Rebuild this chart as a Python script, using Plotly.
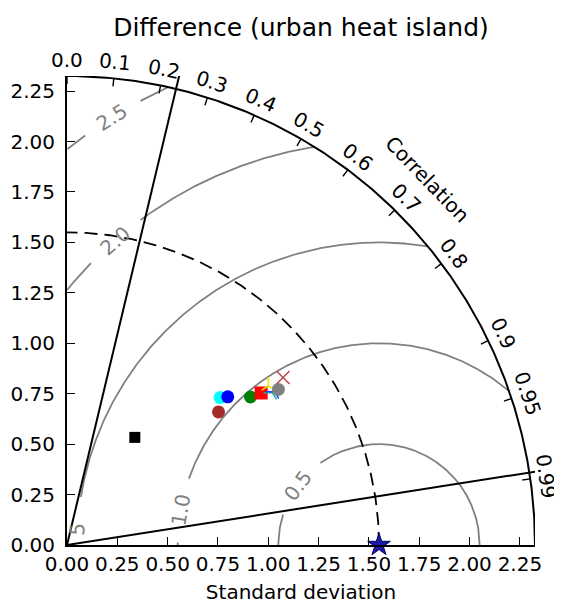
import numpy as np
import plotly.graph_objects as go

# ---------------- data ----------------
model_std = [1.055, 1.085, 1.001, 1.170, 1.224, 1.274, 1.269, 1.280, 1.303, 1.357, 0.631]
model_corr = [0.721, 0.736, 0.752, 0.779, 0.788, 0.785, 0.804, 0.805, 0.806, 0.791, 0.534]
ref_std = 1.55
rms_levels = [0.5, 1.0, 1.5, 2.0, 2.5]
rms_label_text = ["0.5", "1.0", "5", "2.0", "2.5"]
corr_ticks = [0.0, 0.1, 0.2, 0.3, 0.4, 0.5, 0.6, 0.7, 0.8, 0.9, 0.95, 0.99]
corr_tick_labels = ["0.0", "0.1", "0.2", "0.3", "0.4", "0.5", "0.6", "0.7", "0.8", "0.9", "0.95", "0.99"]
std_ticks = [0.0, 0.25, 0.5, 0.75, 1.0, 1.25, 1.5, 1.75, 2.0, 2.25]
std_tick_labels = ["0.00", "0.25", "0.50", "0.75", "1.00", "1.25", "1.50", "1.75", "2.00", "2.25"]
range_line_corr = [0.233, 0.988]
range_line_len = [2.41, 2.37]

# ---------------- styles ----------------
model_colors = ["#00ffff", "#0000ff", "#a52a2a", "#008000", "#ff0000", "#e8e800",
                "#20b0a0", "#2040ff", "#808080", "#b84848", "#000000"]
model_symbols = ["circle", "circle", "circle", "circle", "square", "y-up",
                 "y-left", "y-left", "circle", "x-thin", "square"]
model_sizes = [13, 13, 13, 13, 13, 11, 11, 11, 13, 13, 11]
rms_label_angle = [144, 170, 177, 131, 122]  # position along each contour (deg)
FONT = "DejaVu Sans"
R = 1.5 * ref_std
GRAY = "#808080"
BODY = 8  # default page margin of the html body

fig = go.Figure()

# RMS contours centred on the reference point
gap = 0.16
for L, ang in zip(rms_levels, rms_label_angle):
    phi = np.linspace(0, np.pi, 1500)
    xs = ref_std + L * np.cos(phi)
    ys = L * np.sin(phi)
    ok = (xs ** 2 + ys ** 2 <= R ** 2) & (xs >= 0)
    ok &= np.abs(phi - np.radians(ang)) * L > gap
    xs = np.where(ok, xs, np.nan)
    ys = np.where(ok, ys, np.nan)
    fig.add_trace(go.Scatter(x=xs, y=ys, mode="lines", line=dict(color=GRAY, width=1.8),
                             hoverinfo="skip", showlegend=False))

# dashed reference std arc
t = np.linspace(0, np.pi / 2, 300)
fig.add_trace(go.Scatter(x=ref_std * np.cos(t), y=ref_std * np.sin(t), mode="lines",
                         line=dict(color="black", width=1.8, dash="13px,7px"),
                         hoverinfo="skip", showlegend=False))

# outer arc
fig.add_trace(go.Scatter(x=R * np.cos(t), y=R * np.sin(t), mode="lines",
                         line=dict(color="black", width=2), cliponaxis=False,
                         hoverinfo="skip", showlegend=False))

# correlation tick marks
tx, ty = [], []
for c in corr_ticks:
    th = np.arccos(c)
    tx += [R * np.cos(th), (R - 0.04) * np.cos(th), None]
    ty += [R * np.sin(th), (R - 0.04) * np.sin(th), None]
fig.add_trace(go.Scatter(x=tx, y=ty, mode="lines", line=dict(color="black", width=1.4),
                         cliponaxis=False, hoverinfo="skip", showlegend=False))

# radial range lines
for c, ln in zip(range_line_corr, range_line_len):
    th = np.arccos(c)
    fig.add_trace(go.Scatter(x=[0, ln * np.cos(th)], y=[0, ln * np.sin(th)], mode="lines",
                             line=dict(color="black", width=2), cliponaxis=False,
                             hoverinfo="skip", showlegend=False))

# models
for s, c, col, sym, sz in zip(model_std, model_corr, model_colors, model_symbols, model_sizes):
    th = np.arccos(c)
    line_only = sym.startswith("y-") or sym.endswith("-thin")
    fig.add_trace(go.Scatter(
        x=[s * np.cos(th)], y=[s * np.sin(th)], mode="markers",
        marker=dict(symbol=sym, size=sz, color=col,
                    line=dict(color=col, width=1.5 if line_only else 0)),
        showlegend=False, cliponaxis=False))

# reference
fig.add_trace(go.Scatter(x=[ref_std], y=[0], mode="markers",
                         marker=dict(symbol="star", size=17, color="#1a1aa8",
                                     line=dict(color="#00005a", width=1)),
                         showlegend=False, cliponaxis=False))


def paper_ann(x, y, text, angle, color, size=20):
    # data -> paper coordinates (domain [0,1] spans range [0,R])
    return dict(x=x / R, y=y / R, xref="paper", yref="paper", text=text, showarrow=False,
                textangle=angle, xanchor="center", yanchor="middle",
                font=dict(family=FONT, size=size, color=color))


ann = []
for c, lab in zip(corr_ticks, corr_tick_labels):
    th = np.arccos(c)
    ann.append(paper_ann(2.406 * np.cos(th), 2.406 * np.sin(th), lab,
                         90 - np.degrees(th), "black"))
ann.append(paper_ann(2.546 * np.cos(np.radians(45.4)), 2.546 * np.sin(np.radians(45.4)),
                     "Correlation", 46, "black"))
for L, ang, lab in zip(rms_levels, rms_label_angle, rms_label_text):
    p = np.radians(ang)
    ann.append(paper_ann(ref_std + L * np.cos(p), L * np.sin(p), lab, 90 - ang, GRAY))

axis_common = dict(range=[0, R], showgrid=False, zeroline=False, showline=True,
                   linecolor="black", linewidth=2, ticks="inside", ticklen=8,
                   tickwidth=1.4, tickcolor="black", tickvals=std_ticks,
                   ticktext=std_tick_labels, automargin=False,
                   tickfont=dict(family=FONT, size=20, color="black"))

W, H = 562 - BODY, 613 - BODY
fig.update_layout(
    width=W, height=H,
    margin=dict(l=67 - BODY, r=27, t=76 - BODY, b=68),
    paper_bgcolor="white", plot_bgcolor="white",
    title=dict(text="Difference (urban heat island)", x=0.5, xref="paper",
               y=1 - (27 - BODY) / H, yref="container", yanchor="middle", xanchor="center",
               font=dict(family=FONT, size=25, color="black")),
    xaxis=dict(**axis_common, title=dict(text="Standard deviation", standoff=10,
                                         font=dict(family=FONT, size=20, color="black"))),
    yaxis=dict(**axis_common, ticklabelstandoff=6),
    annotations=ann,
    showlegend=False,
)

fig.write_html("out.html")
